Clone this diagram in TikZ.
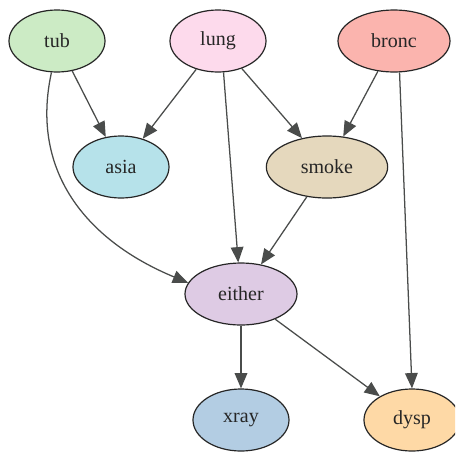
\documentclass[tikz,border=0pt]{standalone}
\usepackage{fontspec}
\setmainfont{Liberation Serif}
\usetikzlibrary{shapes.geometric,arrows.meta}
\definecolor{cTub}{HTML}{CCEBC5}
\definecolor{cLung}{HTML}{FDDAEC}
\definecolor{cBronc}{HTML}{FBB4AE}
\definecolor{cAsia}{HTML}{B6E2EA}
\definecolor{cSmoke}{HTML}{E5D8BD}
\definecolor{cEither}{HTML}{DECBE4}
\definecolor{cXray}{HTML}{B3CDE3}
\definecolor{cDysp}{HTML}{FED9A6}
\definecolor{edgegray}{HTML}{4A4C4B}
\tikzset{
  var/.style={ellipse, draw=black!85, line width=0.9pt, minimum height=46.5pt,
    minimum width=72pt, inner sep=0pt, text=black!85,
    font=\fontsize{15}{17}\selectfont},
  dep/.style={draw=edgegray, line width=0.95pt,
    -{Triangle[length=11.5pt,width=9.5pt,fill=edgegray]}}
}
\begin{document}
\begin{tikzpicture}[x=0.75pt,y=-0.75pt]
  \path[use as bounding box] (0,0) rectangle (455,461);
  \begin{scope}
  \clip (0,0) rectangle (455,461);
  % variables
  \node[var, fill=cTub] (tub) at (57,41) {tub};
  \node[var, fill=cLung] (lung) at (218,41) {lung};
  \node[var, fill=cBronc, minimum width=84pt] (bronc) at (394,41) {bronc};
  \node[var, fill=cAsia] (asia) at (121,167) {asia};
  \node[var, fill=cSmoke, minimum width=91pt] (smoke) at (327,167) {smoke};
  \node[var, fill=cEither, minimum width=84pt] (either) at (241,294) {either};
  \node[var, fill=cXray] (xray) at (241,420) {xray};
  \node[var, fill=cDysp] (dysp) at (412,420) {dysp};
  % dependencies
  \draw[dep] (tub) -- (asia);
  \draw[dep] (tub.-100) .. controls (30,170) and (85,240) .. (either.168);
  \draw[dep] (lung) -- (asia);
  \draw[dep] (lung) -- (smoke);
  \draw[dep] (lung.-80) -- (either.95);
  \draw[dep] (bronc) -- (smoke);
  \draw[dep] (bronc.-80) -- (dysp.90);
  \draw[dep] (smoke) -- (either);
  \draw[dep] (either) -- (xray);
  \draw[dep] (either) -- (dysp);
  \end{scope}
\end{tikzpicture}
\end{document}
